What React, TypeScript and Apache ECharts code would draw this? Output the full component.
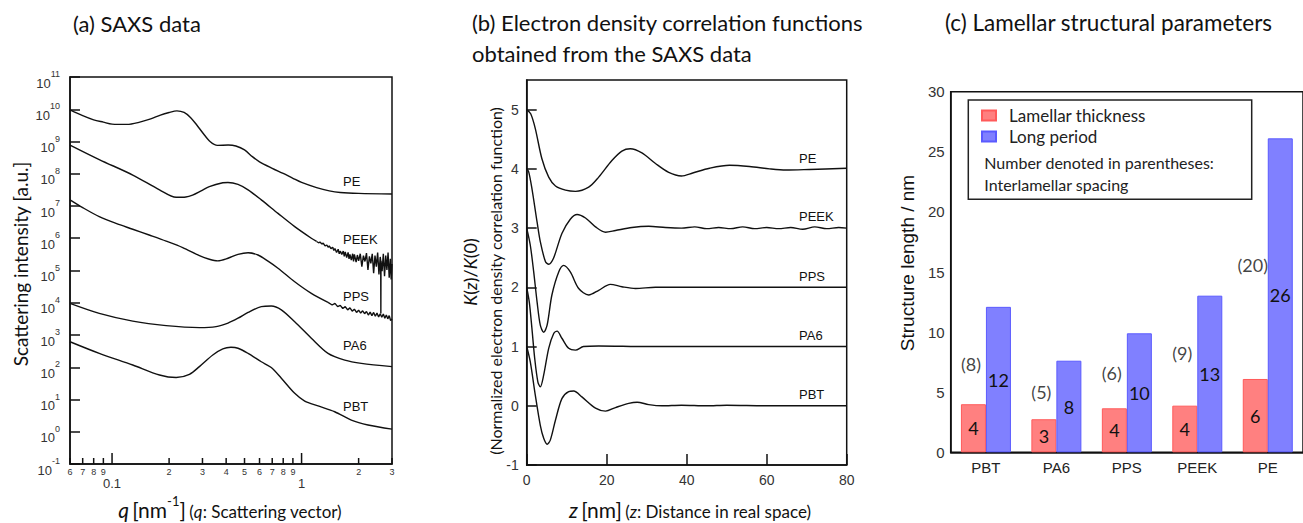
import React, { useEffect, useRef } from 'react';
import * as echarts from 'echarts';

// ---------- Panel (a): SAXS data, pairs of [q (nm^-1), log10 intensity] ----------
const saxsPE: number[][] = [
  [0.06, 9.98], [0.07, 9.8], [0.08, 9.67], [0.09, 9.6], [0.1, 9.54], [0.12, 9.53], [0.14, 9.6],
  [0.16, 9.7], [0.18, 9.82], [0.2, 9.9], [0.22, 9.95], [0.24, 9.9], [0.26, 9.74], [0.28, 9.51],
  [0.3, 9.28], [0.33, 8.99], [0.36, 8.88], [0.41, 8.89], [0.45, 8.86], [0.5, 8.74], [0.55, 8.53],
  [0.6, 8.37], [0.7, 8.17], [0.8, 8.01], [0.9, 7.86], [1.0, 7.73], [1.2, 7.57], [1.4, 7.47],
  [1.6, 7.42], [2.0, 7.39], [3.0, 7.37],
];
const saxsPEEK: number[][] = [
  [0.06, 8.89], [0.0856, 8.44], [0.1286, 7.96], [0.178, 7.5], [0.218, 7.27], [0.245, 7.28],
  [0.266, 7.34], [0.295, 7.47], [0.326, 7.6], [0.384, 7.72], [0.409, 7.73], [0.462, 7.67],
  [0.522, 7.5], [0.613, 7.19], [0.751, 6.77], [0.92, 6.36], [1.126, 6.0], [1.2, 5.9],
];
const saxsPEEKTail: number[][] = [
  [1.2, 5.9], [1.23, 5.86], [1.25, 5.88], [1.28, 5.82], [1.3, 5.85], [1.33, 5.76], [1.36, 5.79],
  [1.38, 5.72], [1.4, 5.76], [1.43, 5.68], [1.46, 5.72], [1.48, 5.62], [1.5, 5.68], [1.53, 5.56],
  [1.56, 5.66], [1.58, 5.52], [1.6, 5.6], [1.63, 5.5], [1.66, 5.6], [1.68, 5.44], [1.7, 5.58],
  [1.73, 5.4], [1.76, 5.56], [1.78, 5.36], [1.8, 5.5], [1.83, 5.32], [1.86, 5.52], [1.88, 5.28],
  [1.9, 5.5], [1.94, 5.26], [1.97, 5.48], [2.0, 5.3], [2.04, 5.52], [2.08, 5.12], [2.12, 5.46],
  [2.16, 5.28], [2.2, 5.54], [2.24, 5.02], [2.28, 5.44], [2.32, 5.22], [2.36, 5.52], [2.4, 4.92],
  [2.44, 5.46], [2.48, 5.12], [2.52, 5.56], [2.56, 4.88], [2.6, 5.42], [2.615, 5.3], [2.62, 3.67],
  [2.625, 5.3], [2.66, 4.98], [2.7, 5.52], [2.74, 4.82], [2.78, 5.46], [2.82, 5.02], [2.86, 5.56],
  [2.9, 4.78], [2.94, 5.36], [2.97, 4.72], [3.0, 5.2],
];
const saxsPPS: number[][] = [
  [0.06, 7.19], [0.07, 6.95], [0.0856, 6.67], [0.105, 6.46], [0.1286, 6.28], [0.157, 6.1],
  [0.193, 5.91], [0.236, 5.71], [0.289, 5.46], [0.326, 5.35], [0.361, 5.3], [0.409, 5.38],
  [0.462, 5.5], [0.522, 5.55], [0.589, 5.48], [0.665, 5.29], [0.751, 5.07], [0.92, 4.65],
  [1.126, 4.29], [1.379, 4.01],
];
const saxsPPSTail: number[][] = [
  [1.379, 4.01], [1.45, 3.93], [1.5, 3.98], [1.55, 3.88], [1.6, 3.92], [1.65, 3.82], [1.7, 3.88],
  [1.75, 3.78], [1.8, 3.84], [1.85, 3.74], [1.9, 3.8], [1.95, 3.7], [2.0, 3.77], [2.05, 3.68],
  [2.1, 3.75], [2.15, 3.66], [2.2, 3.73], [2.25, 3.62], [2.3, 3.71], [2.35, 3.6], [2.4, 3.7],
  [2.45, 3.58], [2.5, 3.68], [2.55, 3.56], [2.6, 3.66], [2.65, 3.55], [2.7, 3.65], [2.75, 3.52],
  [2.8, 3.62], [2.85, 3.5], [2.9, 3.6], [2.95, 3.45], [3.0, 3.5],
];
const saxsPA6: number[][] = [
  [0.06, 3.98], [0.0856, 3.67], [0.1286, 3.43], [0.193, 3.29], [0.289, 3.23], [0.354, 3.26],
  [0.409, 3.37], [0.462, 3.52], [0.522, 3.7], [0.613, 3.88], [0.692, 3.9], [0.782, 3.78],
  [0.92, 3.41], [1.126, 2.9], [1.379, 2.43], [1.69, 2.22], [2.067, 2.12], [3.0, 2.02],
];
const saxsPBT: number[][] = [
  [0.06, 2.79], [0.0856, 2.43], [0.1286, 2.07], [0.178, 1.76], [0.218, 1.68], [0.256, 1.78],
  [0.289, 2.02], [0.34, 2.38], [0.384, 2.57], [0.424, 2.62], [0.462, 2.59], [0.522, 2.43],
  [0.613, 2.17], [0.692, 1.99], [0.782, 1.66], [0.92, 1.19], [1.039, 0.95], [1.222, 0.8],
  [1.496, 0.62], [1.831, 0.36], [2.241, 0.21], [3.0, 0.08],
];
const qTicks = [0.06, 0.07, 0.08, 0.09, 0.1, 0.2, 0.3, 0.4, 0.5, 0.6, 0.7, 0.8, 0.9, 1, 2, 3];
const qTickLabels = ['6', '7', '8', '9', '0.1', '2', '3', '4', '5', '6', '7', '8', '9', '1', '2', '3'];
const qMajor = [0.1, 1];

// ---------- Panel (b): correlation functions, pairs of [z (nm), K(z)/K(0) + offset] ----------
const corrPE: number[][] = [
  [0, 5.0], [1, 4.93], [2.15, 4.68], [3.8, 4.17], [5.5, 3.86], [7.2, 3.71], [9.7, 3.64],
  [12.2, 3.62], [15.5, 3.69], [18, 3.86], [21.3, 4.14], [23.8, 4.3], [25.9, 4.34], [28.8, 4.27],
  [32.2, 4.09], [35.5, 3.94], [38.7, 3.88], [41.5, 3.93], [45.7, 4.01], [50.7, 4.06],
  [55.7, 4.04], [60.7, 4.0], [64.8, 3.98], [70.7, 3.99], [80, 4.01],
];
const corrPEEK: number[][] = [
  [0, 4.0], [0.5, 3.95], [1.3, 3.67], [2.6, 3.1], [3.4, 2.77], [4.7, 2.43], [5.5, 2.39],
  [6.7, 2.49], [8.8, 2.91], [10.9, 3.15], [12.6, 3.23], [14.7, 3.17], [17.2, 3.02], [19.7, 2.93],
  [22.2, 2.96], [26.3, 3.01], [30.5, 3.03], [34.7, 3.01], [38.7, 3.0], [42, 3.02], [45, 2.99],
  [48, 3.01], [51, 2.99], [54, 3.02], [57, 2.99], [60, 3.01], [63, 2.99], [66, 3.01], [69, 2.98],
  [72, 3.02], [75, 2.99], [78, 3.01], [80, 3.0],
];
const corrPPS: number[][] = [
  [0, 3.0], [0.9, 2.71], [1.75, 2.26], [2.6, 1.75], [3.4, 1.36], [4.25, 1.24], [5.1, 1.36],
  [6.3, 1.87], [8, 2.26], [9.25, 2.37], [10.9, 2.26], [13, 1.98], [15.5, 1.87], [18, 1.95],
  [20.9, 2.05], [23.8, 2.01], [27.2, 1.98], [32.2, 2.0], [45, 2.0], [60, 2.0], [80, 2.0],
];
const corrPA6: number[][] = [
  [0, 2.0], [0.65, 1.75], [1.3, 1.31], [2.0, 0.8], [2.8, 0.4], [3.4, 0.32], [4.25, 0.52],
  [5.5, 0.97], [6.75, 1.22], [7.6, 1.26], [8.8, 1.14], [10.5, 0.97], [12.2, 0.94], [14.2, 1.0],
  [18, 1.01], [30, 1.0], [50, 1.0], [80, 1.0],
];
const corrPBT: number[][] = [
  [0, 1.0], [0.9, 0.74], [2.15, 0.18], [3.4, -0.33], [4.25, -0.55], [5.1, -0.65], [5.9, -0.58],
  [7.2, -0.24], [8.8, 0.12], [10.5, 0.24], [11.75, 0.25], [13.8, 0.15], [17.2, -0.04],
  [19.7, -0.09], [22.2, -0.03], [25.5, 0.04], [27.6, 0.06], [30.5, 0.02], [33.8, 0.0],
  [38.7, 0.01], [45, 0.0], [50, 0.01], [60, 0.0], [80, 0.0],
];

// ---------- Panel (c): lamellar parameters ----------
const polymers = ['PBT', 'PA6', 'PPS', 'PEEK', 'PE'];
const lamellarThickness = [4.0, 2.75, 3.66, 3.88, 6.1];
const longPeriod = [12.1, 7.62, 9.9, 13.03, 26.12];
const spacingLabelY = [7.35, 5.0, 6.6, 8.3, 15.6];

const SANS = "'Liberation Sans', Arial, sans-serif";
const HUM = "Lato, 'Open Sans', sans-serif";

export default function App() {
  const ref = useRef<HTMLDivElement>(null);
  useEffect(() => {
    if (!ref.current) return;
    const chart = echarts.init(ref.current, undefined, { renderer: 'svg' });
    const lg = (arr: number[][]) => arr.map((p) => [Math.log10(p[0]), p[1]]);
    const lineBase = (xi: number, data: number[][], smooth: number | boolean) => ({
      type: 'line', xAxisIndex: xi, yAxisIndex: xi, data, showSymbol: false, symbol: 'none',
      smooth, color: '#111', lineStyle: { color: '#111', width: 1.4 }, silent: true,
    });
    const axisLine = { show: true, onZero: false, lineStyle: { color: '#111', width: 1.5 } };
    const option: any = {
      animation: false,
      grid: [
        { left: 70, top: 77, width: 322, height: 387, show: true, borderColor: '#111', borderWidth: 1.5, backgroundColor: 'transparent' },
        { left: 526.7, top: 80, width: 320, height: 385, show: true, borderColor: '#111', borderWidth: 1.5, backgroundColor: 'transparent' },
        { left: 950.7, top: 91.7, width: 357, height: 360.6, show: true, borderColor: '#111', borderWidth: 1.5, backgroundColor: 'transparent' },
      ],
      xAxis: [
        { gridIndex: 0, type: 'value', min: Math.log10(0.06), max: Math.log10(3), axisLine, axisTick: { show: false }, axisLabel: { show: false }, splitLine: { show: false } },
        { gridIndex: 1, type: 'value', min: 0, max: 80, interval: 20, axisLine, splitLine: { show: false },
          axisTick: { inside: true, length: 11, lineStyle: { color: '#111', width: 1.5 } },
          axisLabel: { fontFamily: SANS, fontSize: 14, color: '#333', margin: 8 } },
        { gridIndex: 2, type: 'category', data: polymers, axisLine, axisTick: { show: false },
          axisLabel: { fontFamily: SANS, fontSize: 15, color: '#222', margin: 8 } },
      ],
      yAxis: [
        { gridIndex: 0, type: 'value', min: -1, max: 11, interval: 1, axisLine, splitLine: { show: false },
          axisTick: { inside: true, length: 10, lineStyle: { color: '#111', width: 1.5 } },
          axisLabel: {
            margin: 10, padding: [5, 0, 0, 0],
            formatter: (v: number) => `{b|10}{s|${Math.round(v)}}`,
            rich: {
              b: { fontFamily: SANS, fontSize: 13, color: '#333', lineHeight: 20, verticalAlign: 'bottom' },
              s: { fontFamily: SANS, fontSize: 9, color: '#333', lineHeight: 9, verticalAlign: 'top' },
            },
          } },
        { gridIndex: 1, type: 'value', min: -1, max: 5.5, interval: 1, axisLine, splitLine: { show: false },
          axisTick: { inside: true, length: 10, lineStyle: { color: '#111', width: 1.5 } },
          axisLabel: { fontFamily: SANS, fontSize: 14, color: '#333', margin: 8, showMaxLabel: false } },
        { gridIndex: 2, type: 'value', min: 0, max: 30, interval: 5, axisLine, splitLine: { show: false },
          axisTick: { inside: true, length: 9, lineStyle: { color: '#111', width: 1.5 } },
          axisLabel: { fontFamily: SANS, fontSize: 15, color: '#333', margin: 6 } },
      ],
      legend: {
        data: ['Lamellar thickness', 'Long period'], orient: 'vertical', left: 981, top: 106, padding: 0,
        icon: 'rect', itemWidth: 14, itemHeight: 10, itemGap: 2, selectedMode: false,
        textStyle: { fontFamily: HUM, fontSize: 17, color: '#222', padding: [0, 0, 0, 8], lineHeight: 19 },
      },
      series: [
        lineBase(0, lg(saxsPE), 0.3),
        lineBase(0, lg(saxsPEEK), 0.3),
        lineBase(0, lg(saxsPEEKTail), false),
        lineBase(0, lg(saxsPPS), 0.3),
        lineBase(0, lg(saxsPPSTail), false),
        lineBase(0, lg(saxsPA6), 0.3),
        lineBase(0, lg(saxsPBT), 0.3),
        {
          type: 'custom', xAxisIndex: 0, yAxisIndex: 0, clip: false, silent: true,
          data: qTicks.map((q) => [Math.log10(q), -1]),
          renderItem: (params: any, api: any) => {
            const i = params.dataIndex;
            const q = qTicks[i];
            const major = qMajor.includes(q);
            const p = api.coord([Math.log10(q), -1]);
            return {
              type: 'group',
              children: [
                { type: 'line', shape: { x1: p[0], y1: p[1], x2: p[0], y2: p[1] - (major ? 11 : 6) }, style: { stroke: '#111', lineWidth: 1.5 } },
                { type: 'text', x: p[0], y: p[1] + (major ? 13 : 3),
                  style: { text: qTickLabels[i], fill: '#333', fontFamily: SANS, fontSize: major ? 13 : 9, align: 'center', verticalAlign: 'top' } },
              ],
            };
          },
        },
        lineBase(1, corrPE, 0.3),
        lineBase(1, corrPEEK, 0.3),
        lineBase(1, corrPPS, 0.3),
        lineBase(1, corrPA6, 0.3),
        lineBase(1, corrPBT, 0.3),
        {
          name: 'Lamellar thickness', type: 'bar', xAxisIndex: 2, yAxisIndex: 2, data: lamellarThickness,
          barWidth: 25, barGap: '0%', silent: true,
          itemStyle: { color: '#ff8080', borderColor: '#ff5a5a', borderWidth: 1 },
          label: { show: true, position: 'inside', formatter: (p: any) => String(Math.round(p.value)), fontFamily: HUM, fontSize: 18, color: '#111' },
        },
        {
          name: 'Long period', type: 'bar', xAxisIndex: 2, yAxisIndex: 2, data: longPeriod,
          barWidth: 25, barGap: '0%', silent: true,
          itemStyle: { color: '#8080ff', borderColor: '#5a5aff', borderWidth: 1 },
          label: { show: true, position: 'inside', formatter: (p: any) => String(Math.round(p.value)), fontFamily: HUM, fontSize: 18, color: '#111' },
        },
        {
          type: 'scatter', xAxisIndex: 2, yAxisIndex: 2, silent: true, symbolSize: 1,
          itemStyle: { color: 'transparent' },
          data: polymers.map((c, i) => [c, spacingLabelY[i]]),
          label: {
            show: true, position: 'inside', offset: [-15, 0], fontFamily: HUM, fontSize: 18, color: '#111',
            formatter: (p: any) => `(${Math.round(longPeriod[p.dataIndex] - lamellarThickness[p.dataIndex])})`,
          },
        },
      ],
      graphic: [
        // titles
        { type: 'text', x: 73, y: 23, style: { text: '(a) SAXS data', fontFamily: HUM, fontSize: 22, fill: '#111', verticalAlign: 'middle' } },
        { type: 'text', x: 472, y: 22, style: { text: '(b) Electron density correlation functions', fontFamily: HUM, fontSize: 22, fill: '#111', verticalAlign: 'middle' } },
        { type: 'text', x: 472, y: 53.5, style: { text: 'obtained from the SAXS data', fontFamily: HUM, fontSize: 22, fill: '#111', verticalAlign: 'middle' } },
        { type: 'text', x: 945, y: 22, style: { text: '(c) Lamellar structural parameters', fontFamily: HUM, fontSize: 22.5, fill: '#111', verticalAlign: 'middle' } },
        // axis titles (a)
        { type: 'text', x: 20, y: 264, rotation: Math.PI / 2,
          style: { text: 'Scattering intensity [a.u.]', fontFamily: HUM, fontSize: 19, fill: '#111', align: 'center', verticalAlign: 'middle' } },
        { type: 'text', x: 230, y: 494,
          style: {
            text: '{qi|q} {b|[nm}{s|-1}{b|]} {n|(}{ni|q}{n|: Scattering vector)}', align: 'center', verticalAlign: 'top',
            rich: {
              qi: { fontFamily: HUM, fontStyle: 'italic', fontSize: 21, fill: '#111', lineHeight: 26, verticalAlign: 'bottom' },
              b: { fontFamily: HUM, fontSize: 21, fill: '#111', lineHeight: 26, verticalAlign: 'bottom' },
              s: { fontFamily: HUM, fontSize: 13, fill: '#111', lineHeight: 13, verticalAlign: 'top' },
              n: { fontFamily: HUM, fontSize: 17, fill: '#111', lineHeight: 24, verticalAlign: 'bottom' },
              ni: { fontFamily: HUM, fontStyle: 'italic', fontSize: 17, fill: '#111', lineHeight: 24, verticalAlign: 'bottom' },
            },
          } },
        // axis titles (b)
        { type: 'text', x: 470, y: 272, rotation: Math.PI / 2,
          style: {
            text: '{i|K}{r|(}{i|z}{r|)/}{i|K}{r|(0)}', align: 'center', verticalAlign: 'middle',
            rich: {
              i: { fontFamily: HUM, fontStyle: 'italic', fontSize: 18, fill: '#111' },
              r: { fontFamily: HUM, fontSize: 18, fill: '#111' },
            },
          } },
        { type: 'text', x: 495, y: 281, rotation: Math.PI / 2,
          style: { text: '(Normalized electron density correlation function)', fontFamily: HUM, fontSize: 16, fill: '#111', align: 'center', verticalAlign: 'middle' } },
        { type: 'text', x: 690, y: 494,
          style: {
            text: '{zi|z} {b|[nm]} {n|(}{ni|z}{n|: Distance in real space)}', align: 'center', verticalAlign: 'top',
            rich: {
              zi: { fontFamily: HUM, fontStyle: 'italic', fontSize: 21, fill: '#111', lineHeight: 26, verticalAlign: 'bottom' },
              b: { fontFamily: HUM, fontSize: 21, fill: '#111', lineHeight: 26, verticalAlign: 'bottom' },
              n: { fontFamily: HUM, fontSize: 17, fill: '#111', lineHeight: 24, verticalAlign: 'bottom' },
              ni: { fontFamily: HUM, fontStyle: 'italic', fontSize: 17, fill: '#111', lineHeight: 24, verticalAlign: 'bottom' },
            },
          } },
        // axis title (c)
        { type: 'text', x: 907, y: 263, rotation: Math.PI / 2,
          style: { text: 'Structure length / nm', fontFamily: SANS, fontSize: 19, fill: '#111', align: 'center', verticalAlign: 'middle' } },
        // curve labels (a)
        ...['PE', 'PEEK', 'PPS', 'PA6', 'PBT'].map((t, i) => ({
          type: 'text', x: 343, y: [181.5, 239, 296, 345, 406][i],
          style: { text: t, fontFamily: SANS, fontSize: 13, fill: '#111', verticalAlign: 'middle' },
        })),
        // curve labels (b)
        ...['PE', 'PEEK', 'PPS', 'PA6', 'PBT'].map((t, i) => ({
          type: 'text', x: 799, y: [158.3, 216.7, 276, 335, 394.3][i],
          style: { text: t, fontFamily: SANS, fontSize: 13, fill: '#111', verticalAlign: 'middle' },
        })),
        // legend box (c)
        { type: 'rect', shape: { x: 968.3, y: 100, width: 283.4, height: 99.3 }, style: { fill: 'transparent', stroke: '#222', lineWidth: 1.5 } },
        { type: 'text', x: 984.3, y: 162.3, style: { text: 'Number denoted in parentheses:', fontFamily: HUM, fontSize: 16, fill: '#222', verticalAlign: 'middle' } },
        { type: 'text', x: 984.3, y: 184, style: { text: 'Interlamellar spacing', fontFamily: HUM, fontSize: 16, fill: '#222', verticalAlign: 'middle' } },
      ],
    };
    chart.setOption(option);
    return () => chart.dispose();
  }, []);
  return <div ref={ref} style={{ position: 'fixed', left: 0, top: 0, width: 1303, height: 523, background: '#fff' }} />;
}
